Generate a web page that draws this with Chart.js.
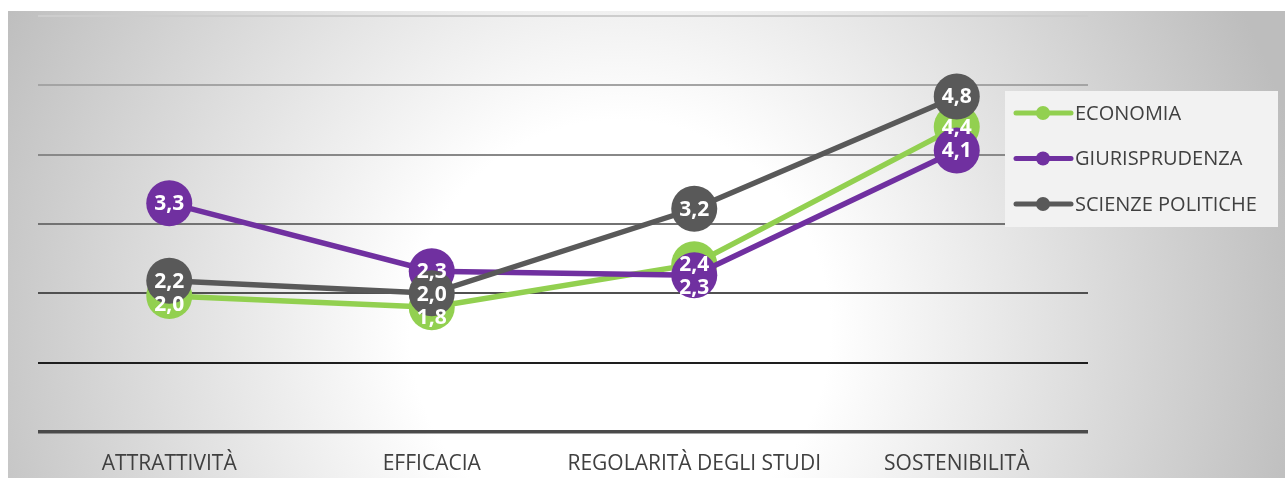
<!DOCTYPE html>
<html>
<head>
    <meta charset="utf-8">
    <title>Indicatori per corso</title>
    <script src="https://cdn.jsdelivr.net/npm/chart.js"></script>
    <style>
        body { margin: 0; background: #ffffff; }
        .chart-container {
            width: 1285px;
            height: 478px;
            position: relative;
        }
    </style>
</head>
<body>
    <div class="chart-container">
        <canvas id="lineChart"></canvas>
    </div>

    <script>
        // Data
        const categories = ['ATTRATTIVITÀ', 'EFFICACIA', 'REGOLARITÀ DEGLI STUDI', 'SOSTENIBILITÀ'];
        const economia = [1.96, 1.8, 2.42, 4.4];
        const giurisprudenza = [3.3, 2.32, 2.26, 4.06];
        const scienzePolitiche = [2.18, 2.0, 3.22, 4.84];

        // Grid line colours from value 0 (bottom) to 6 (top)
        const gridColors = ['#4a4a4a', '#1e1e1e', '#505050', '#727272', '#888888', '#a4a4a4', '#cdcdcd'];
        const textColor = '#404040';

        const fmt = v => v.toFixed(1).replace('.', ',');

        // Radial grey background, white in the middle
        const backgroundPlugin = {
            id: 'bg',
            beforeDraw(chart) {
                const ctx = chart.ctx;
                ctx.save();
                ctx.fillStyle = '#ffffff';
                ctx.fillRect(0, 0, chart.width, chart.height);
                const g = ctx.createRadialGradient(620, 330, 0, 620, 330, 700);
                g.addColorStop(0, '#ffffff');
                g.addColorStop(0.3, '#ffffff');
                g.addColorStop(1, '#bdbdbd');
                ctx.fillStyle = g;
                ctx.fillRect(8, 11, chart.width - 8, chart.height - 11);
                ctx.restore();
            }
        };

        // White value labels in the middle of each marker, nudged apart when they collide
        const valueLabels = {
            id: 'valueLabels',
            afterDatasetsDraw(chart) {
                const ctx = chart.ctx;
                ctx.save();
                ctx.font = 'bold 21px "Open Sans"';
                ctx.fillStyle = '#ffffff';
                ctx.textAlign = 'center';
                ctx.textBaseline = 'middle';
                categories.forEach((c, i) => {
                    const labels = chart.data.datasets.map((ds, d) => {
                        const pt = chart.getDatasetMeta(d).data[i];
                        return { x: pt.x, y: pt.y, text: fmt(ds.data[i]) };
                    }).sort((a, b) => a.y - b.y);
                    for (let k = 1; k < labels.length; k++) {
                        if (labels[k].y - labels[k - 1].y < 23) {
                            labels[k].y = labels[k - 1].y + 23;
                        }
                    }
                    labels.forEach(l => ctx.fillText(l.text, l.x, l.y + 1));
                });
                ctx.restore();
            }
        };

        // Legend box overlapping the right end of the plot
        const boxLegend = {
            id: 'boxLegend',
            afterDraw(chart) {
                const ctx = chart.ctx;
                const left = 1005, top = 91;
                ctx.save();
                ctx.fillStyle = '#f2f2f2';
                ctx.fillRect(left, top, 273, 136);
                ctx.font = '20px "Open Sans"';
                ctx.textBaseline = 'middle';
                ctx.textAlign = 'left';
                chart.data.datasets.forEach((ds, i) => {
                    const y = top + 22 + i * 45.5;
                    ctx.strokeStyle = ds.borderColor;
                    ctx.lineWidth = 5;
                    ctx.lineCap = 'round';
                    ctx.beginPath();
                    ctx.moveTo(left + 11, y);
                    ctx.lineTo(left + 66, y);
                    ctx.stroke();
                    ctx.fillStyle = ds.borderColor;
                    ctx.beginPath();
                    ctx.arc(left + 38, y, 7, 0, Math.PI * 2);
                    ctx.fill();
                    ctx.fillStyle = textColor;
                    ctx.fillText(ds.label, left + 70, y + 1);
                });
                ctx.restore();
            }
        };

        function series(label, data, color, order) {
            return {
                label: label,
                data: data,
                borderColor: color,
                backgroundColor: color,
                borderWidth: 5.5,
                tension: 0,
                pointRadius: 23,
                pointHoverRadius: 23,
                pointBorderWidth: 0,
                pointBackgroundColor: color,
                order: order,
                clip: false
            };
        }

        new Chart(document.getElementById('lineChart'), {
            type: 'line',
            data: {
                labels: categories,
                datasets: [
                    series('ECONOMIA', economia, '#92d050', 3),
                    series('GIURISPRUDENZA', giurisprudenza, '#7030a0', 2),
                    series('SCIENZE POLITICHE', scienzePolitiche, '#595959', 1)
                ]
            },
            options: {
                responsive: true,
                maintainAspectRatio: false,
                animation: false,
                layout: {
                    autoPadding: false,
                    padding: { left: 38, right: 197, top: 16, bottom: 3 }
                },
                plugins: {
                    legend: { display: false },
                    tooltip: { enabled: false }
                },
                scales: {
                    x: {
                        offset: true,
                        afterFit: scale => { scale.height = 43; },
                        grid: { display: false, drawTicks: false },
                        border: { display: false },
                        ticks: {
                            color: textColor,
                            padding: 19,
                            maxRotation: 0,
                            autoSkip: false,
                            font: { family: 'Open Sans', size: 21 }
                        }
                    },
                    y: {
                        min: 0,
                        max: 6,
                        ticks: { display: false, stepSize: 1 },
                        border: { display: false },
                        grid: {
                            drawTicks: false,
                            color: ctx => gridColors[ctx.tick.value],
                            lineWidth: ctx => ctx.tick.value === 0 ? 3.5 : 2
                        }
                    }
                }
            },
            plugins: [backgroundPlugin, valueLabels, boxLegend]
        });
    </script>
</body>
</html>
